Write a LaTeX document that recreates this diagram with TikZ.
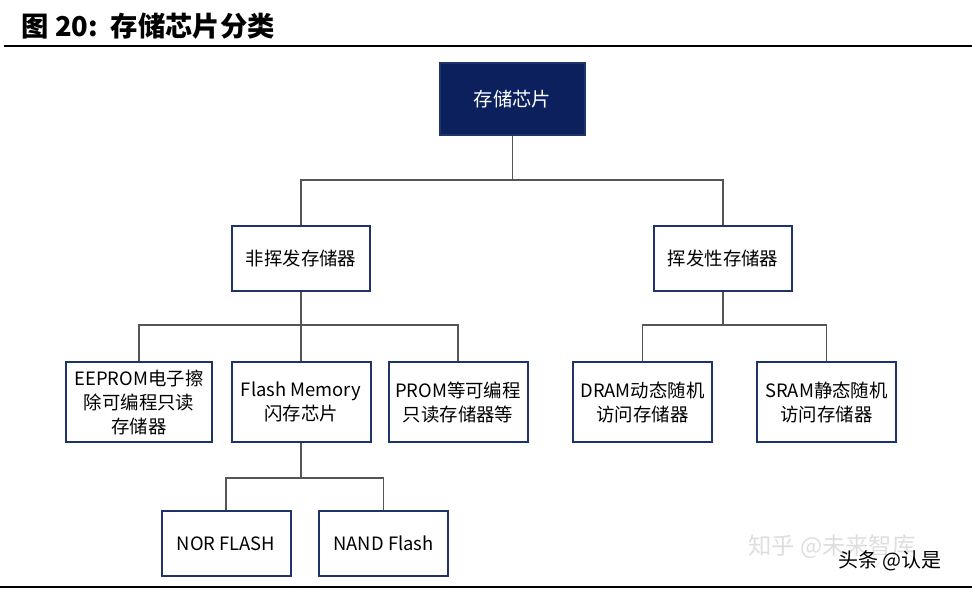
\documentclass[tikz,border=0pt]{standalone}
\usepackage{fontspec}
\setmainfont{Noto Sans CJK SC}
\usepackage{tikz}
\usetikzlibrary{calc}
\definecolor{navy}{RGB}{12,32,94}
\definecolor{edge}{RGB}{30,52,105}
\definecolor{wire}{RGB}{85,85,85}
\tikzset{
  box/.style={draw=edge, line width=1.5pt, fill=white, inner sep=0pt, align=center,
    font=\fontsize{13.8}{18}\selectfont},
  conn/.style={draw=wire, line width=1.1pt}
}

\begin{document}
\begin{tikzpicture}[x=0.75pt, y=-0.75pt]
				\useasboundingbox (0,0) rectangle (972,590);
				
				% title and rules
				\node[anchor=west, font=\fontsize{20.5}{24}\selectfont\bfseries] (title) at (17,26) {图 20:\ \ 存储芯片分类};
				\draw[line width=2pt] (4,46) -- (972,46);
				\draw[line width=1.6pt] (0,587) -- (972,587);
				
				% root
				\node[box, fill=navy, text=white, minimum width=108.75pt, minimum height=54pt,
				  font=\fontsize{14.5}{18}\selectfont] (chip) at (512.5,99) {存储芯片};
				
				% first level
				\node[box, minimum width=103.5pt, minimum height=48.75pt] (nonvol) at (301,258.5) {非挥发存储器};
				\node[box, minimum width=103.5pt, minimum height=48.75pt] (vol) at (723,258.5) {挥发性存储器};
				
				% second level
				\node[box, minimum width=109.5pt, minimum height=60pt] (eeprom) at (139,402) {EEPROM电子擦\\除可编程只读\\存储器};
				\node[box, minimum width=104.25pt, minimum height=60pt] (flash) at (301,402) {Flash Memory\\闪存芯片};
				\node[box, minimum width=104.25pt, minimum height=60pt] (prom) at (458,402) {PROM等可编程\\只读存储器等};
				\node[box, minimum width=104.25pt, minimum height=60pt] (dram) at (642.5,402) {DRAM动态随机\\访问存储器};
				\node[box, minimum width=104.25pt, minimum height=60pt] (sram) at (826.5,402) {SRAM静态随机\\访问存储器};
				
				% third level
				\node[box, minimum width=96.75pt, minimum height=48.75pt] (nor) at (226,543.5) {NOR FLASH};
				\node[box, minimum width=96.75pt, minimum height=48.75pt] (nand) at (383.5,543.5) {NAND Flash};
				
				% buses
				\coordinate (b0) at (512.5,180);
				\coordinate (b1) at (301,325);
				\coordinate (b2) at (723,325);
				\coordinate (b3) at (301,478);
				
				\draw[conn] (chip.south) -- (b0);
				\draw[conn] (nonvol.north) |- (b0) -| (vol.north);
				\draw[conn] (nonvol.south) -- (b1);
				\draw[conn] (eeprom.north) |- (b1) -| (prom.north);
				\draw[conn] (b1) -- (flash.north);
				\draw[conn] (vol.south) -- (b2);
				\draw[conn] (dram.north) |- (b2) -| (sram.north);
				\draw[conn] (flash.south) -- (b3);
				\draw[conn] (nor.north) |- (b3) -| (nand.north);
				
				% watermarks
				\node[text=black!13, font=\fontsize{17.5}{20}\selectfont] (zhihu) at (832,547) {知乎 @未来智库};
				\node[font=\fontsize{15}{18}\selectfont] (toutiao) at (890,561) {头条 @认是};
			\end{tikzpicture}
\end{document}
